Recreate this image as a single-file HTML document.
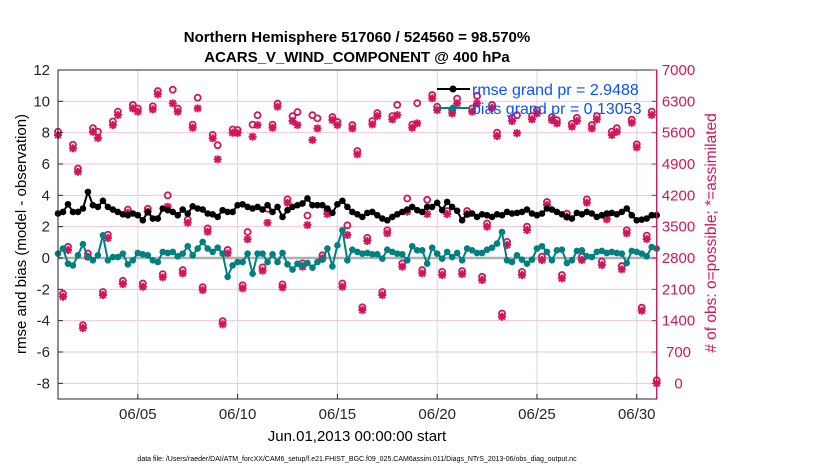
<!DOCTYPE html>
<html><head><meta charset="utf-8"><style>
body{margin:0;background:#fff;}
svg{display:block;font-family:"Liberation Sans",Arial,sans-serif;}
</style></head><body>
<svg id="chart" width="830" height="470" viewBox="0 0 830 470">
<text x="357" y="42" text-anchor="middle" font-size="15" font-weight="bold">Northern Hemisphere 517060 / 524560 = 98.570%</text>
<text x="357" y="62" text-anchor="middle" font-size="15" font-weight="bold">ACARS_V_WIND_COMPONENT @ 400 hPa</text>
<g id="grid"></g>
<g id="marks"></g>
<g id="axes"></g>
<text transform="translate(26,234) rotate(-90)" text-anchor="middle" font-size="15">rmse and bias (model - observation)</text>
<text transform="translate(716,233) rotate(-90)" text-anchor="middle" font-size="15.5" fill="#d4145a"># of obs: o=possible; *=assimilated</text>
<text x="357" y="441" text-anchor="middle" font-size="15">Jun.01,2013 00:00:00 start</text>
<text x="357" y="461" text-anchor="middle" font-size="7">data file: /Users/raeder/DAI/ATM_forcXX/CAM6_setup/f.e21.FHIST_BGC.f09_025.CAM6assim.011/Diags_NTrS_2013-06/obs_diag_output.nc</text>
<g id="legend"></g>
</svg>
<script>
const xTickDays=[4,9,14,19,24,29];
const xTickLabels=["06/05","06/10","06/15","06/20","06/25","06/30"];
const leftTicks=[12,10,8,6,4,2,0,-2,-4,-6,-8];
const rightTicks=[0,700,1400,2100,2800,3500,4200,4900,5600,6300,7000];
const rmse=[2.84,2.94,3.43,2.94,2.94,3.16,4.22,3.37,3.26,3.65,3.26,3.09,2.94,2.79,2.73,2.84,2.73,2.41,2.94,2.52,2.52,3.16,3.05,2.94,2.73,3.09,2.84,3.30,3.16,3.09,2.84,2.79,2.62,3.05,2.94,2.94,3.37,3.43,3.26,3.16,3.26,
3.09,3.37,2.94,3.26,2.62,3.05,3.26,3.37,3.48,3.80,3.37,3.37,3.37,3.16,2.88,3.43,3.65,3.26,2.94,2.79,2.62,2.88,2.94,2.73,2.52,2.41,2.62,2.79,2.94,3.09,3.26,3.05,2.94,3.26,3.26,3.52,3.05,3.58,3.26,3.01,
2.41,2.79,2.84,2.62,2.79,2.73,2.62,2.79,2.73,2.94,2.84,2.88,2.94,3.09,2.84,2.73,2.84,3.16,3.09,2.94,2.79,2.62,2.52,2.88,2.79,2.94,2.84,2.62,2.73,2.84,2.88,2.79,2.94,3.16,2.73,2.41,2.45,2.52,2.73,2.73];
const bias=[0.28,0.60,-0.36,-0.47,0.17,0.88,0.06,-0.15,0.17,1.45,-0.15,0.06,0.06,0.28,-0.40,-0.15,0.32,0.24,0.17,-0.15,-0.26,0.39,0.32,0.39,0.11,0.28,0.75,0.17,0.60,1.03,0.60,0.39,0.66,0.28,-1.20,-0.47,-0.26,-0.26,0.28,-1.00,0.28,
0.28,-0.26,0.24,-0.26,0.32,-0.40,-0.74,-0.36,-0.47,-0.32,-0.62,-0.26,-0.11,0.60,-0.53,0.81,1.77,-0.15,0.53,0.39,0.28,0.32,0.24,0.24,-0.04,0.53,0.39,0.28,0.24,-0.15,0.75,0.49,0.49,-0.36,0.66,0.28,-0.04,0.39,0.06,0.32,
-0.15,0.60,0.49,0.32,0.32,0.53,0.66,0.92,1.66,-0.15,-0.26,0.17,-0.11,-0.36,-0.11,0.60,0.75,0.39,-0.15,0.49,0.53,-0.32,-0.15,0.45,0.49,0.11,0.06,0.39,0.45,0.32,0.39,0.32,0.28,-0.32,0.45,0.39,0.28,0.11,0.70,0.60];
const assimilated=[5547,1935,2978,5250,4727,1235,2828,5620,5480,1973,3246,5770,5994,2218,3811,6143,6068,2158,3834,6120,6456,2368,3945,6255,6068,2457,3588,5710,6143,2084,3387,5473,5004,1318,2904,5598,5590,2122,3217,5510,5770,
2516,3588,5710,6180,2144,4035,5860,5770,2605,3536,5435,5696,2792,3782,5882,5770,2158,3313,5696,5116,1637,3179,5785,5971,1973,3351,5897,5994,2605,3834,5710,5808,2457,3782,6367,6106,2420,3782,6031,6255,
2442,3782,6068,6255,2308,3500,6150,5525,1488,3090,5860,5590,2420,3425,5897,6031,2755,3983,5882,5808,2345,3722,5733,5860,2755,4035,5696,5897,2643,3664,5547,5620,2546,3351,5820,5272,1622,3224,5994,0];
const possible=[5620,2000,3050,5330,4800,1300,2900,5700,5620,2040,3320,5850,6070,2290,3880,6220,6140,2230,3900,6190,6530,2440,4200,6560,6140,2530,3660,5780,6380,2150,3460,5550,5320,1390,2980,5670,5660,2190,3380,5780,5990,
2590,3900,5780,6250,2210,4110,5970,6060,2680,3750,5990,5920,2860,3860,5950,5840,2230,3530,5770,5190,1700,3250,5860,6040,2040,3420,5970,6220,2680,4130,5780,6260,2530,4100,6440,6180,2490,3850,6100,6360,
2510,3850,6140,6420,2380,3570,6220,5600,1560,3160,5930,5990,2490,3500,5970,6100,2830,4050,5950,5880,2420,3790,5800,5930,2830,4110,5770,5970,2720,3740,5620,5700,2620,3420,5890,5340,1690,3300,6070,70];

const X0=58,X1=656.7,Y0=70,Y1=399;
const xs=d=>X0+(d/30)*(X1-X0);
const yl=v=>Y0+(12-v)/21*(Y1-Y0);
const yr=v=>Y0+(7000-v)/7350*(Y1-Y0);
const NS="http://www.w3.org/2000/svg";
function mk(tag,attrs,parent){const e=document.createElementNS(NS,tag);for(const k in attrs)e.setAttribute(k,attrs[k]);parent.appendChild(e);return e;}
const grid=document.getElementById('grid'),marks=document.getElementById('marks'),axes=document.getElementById('axes'),legend=document.getElementById('legend');
const CR="#d4145a",TEAL="#008080";

rightTicks.forEach(v=>{
  const l=mk('line',{x1:X0,x2:X1,y1:yr(v),y2:yr(v),stroke:"#f2c4d4","stroke-width":1},grid);
  
  
});
xTickDays.forEach(d=>{
  const l=mk('line',{x1:xs(d),x2:xs(d),y1:Y0,y2:Y1,stroke:"#d8d8d8","stroke-width":1},grid);
  
  
});
const zl=mk('line',{x1:X0,x2:X1,y1:yl(0),y2:yl(0),stroke:"#b0b0b0","stroke-width":2.5},grid);



const dt=i=>i*0.25;
assimilated.forEach((v,i)=>{
  const x=xs(dt(i)),y=yr(v),r=4;
  const g=mk('g',{stroke:CR,"stroke-width":2,fill:"none"},marks);
  
  
  mk('line',{x1:x-r,x2:x+r,y1:y,y2:y},g);
  mk('line',{x1:x,x2:x,y1:y-r,y2:y+r},g);
  mk('line',{x1:x-3,x2:x+3,y1:y-3,y2:y+3},g);
  mk('line',{x1:x-3,x2:x+3,y1:y+3,y2:y-3},g);
});
possible.forEach((v,i)=>{
  const c=mk('circle',{cx:xs(dt(i)),cy:yr(v),r:3,stroke:CR,"stroke-width":1.8,fill:"none"},marks);
  
  
});
function series(arr,color,name){
  const pts=arr.map((v,i)=>xs(dt(i)).toFixed(1)+","+yl(v).toFixed(1)).join(" ");
  const p=mk('polyline',{points:pts,fill:"none",stroke:color,"stroke-width":2},marks);
  
  
  arr.forEach((v,i)=>{
    const c=mk('circle',{cx:xs(dt(i)),cy:yl(v),r:3.3,fill:color},marks);
    
    
  });
}
series(rmse,"#000","rmse");
series(bias,TEAL,"bias");

const box=mk('rect',{x:X0,y:Y0,width:X1-X0,height:Y1-Y0,fill:"none",stroke:"#262626","stroke-width":1},axes);


const ra=mk('line',{x1:X1,x2:X1,y1:Y0,y2:Y1,stroke:CR,"stroke-width":1.2},axes);


leftTicks.forEach(v=>{
  const t=mk('text',{x:X0-8,y:yl(v)+5,"text-anchor":"end","font-size":15,fill:"#262626"},axes);
  t.textContent=v;
  
  
  mk('line',{x1:X0,x2:X0+5,y1:yl(v),y2:yl(v),stroke:"#262626"},axes);
});
rightTicks.forEach(v=>{
  const t=mk('text',{x:678.5,y:yr(v)+5,"text-anchor":"middle","font-size":15,fill:CR},axes);
  t.textContent=v;
  
  
  mk('line',{x1:X1-5,x2:X1,y1:yr(v),y2:yr(v),stroke:CR},axes);
});
xTickDays.forEach((d,i)=>{
  const t=mk('text',{x:xs(d),y:Y1+20,"text-anchor":"middle","font-size":15,fill:"#262626"},axes);
  t.textContent=xTickLabels[i];
  
  
  mk('line',{x1:xs(d),x2:xs(d),y1:Y1,y2:Y1-5,stroke:"#262626"},axes);
});

[["rmse grand pr = 2.9488","#000",89],["bias grand pr = 0.13053",TEAL,108]].forEach(([txt,col,y])=>{
  const g=mk('g',{},legend);
  
  
  mk('line',{x1:437,x2:470,y1:y,y2:y,stroke:col,"stroke-width":2},g);
  mk('circle',{cx:453,cy:y,r:3.5,fill:col},g);
  const t=mk('text',{x:472,y:y+6,"font-size":16,fill:"#0a50ff"},g);
  t.textContent=txt;
});
</script>
</body></html>
